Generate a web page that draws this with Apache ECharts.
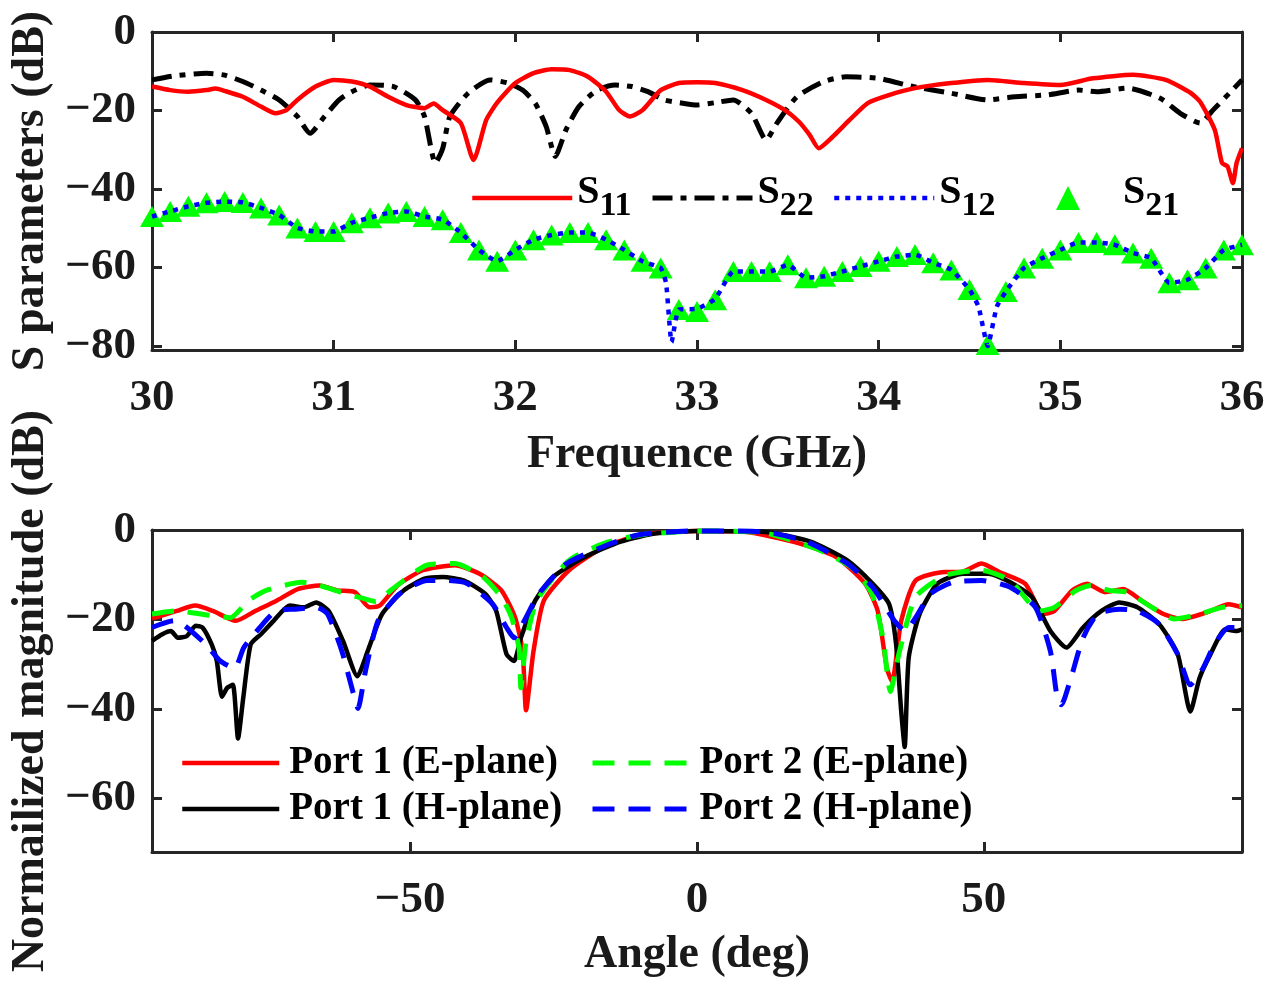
<!DOCTYPE html>
<html>
<head>
<meta charset="utf-8">
<script src="https://cdn.jsdelivr.net/npm/echarts@6/dist/echarts.min.js"></script>
<style>
  html, body { margin: 0; padding: 0; background: #fff; }
  #main { width: 1273px; height: 987px; }
</style>
</head>
<body>
<div id="main"></div>
<script>
// ---- top panel: S parameters vs frequency (GHz) ----
var freqS11 = [30.0, 30.1, 30.2, 30.3, 30.35, 30.4, 30.5, 30.6, 30.68, 30.74, 30.8, 30.9, 31.0, 31.1, 31.2, 31.3, 31.4, 31.5, 31.55, 31.6, 31.7, 31.77, 31.84, 31.9, 32.0, 32.1, 32.2, 32.3, 32.4, 32.5, 32.57, 32.63, 32.7, 32.8, 32.9, 33.0, 33.1, 33.25, 33.38, 33.48, 33.56, 33.62, 33.67, 33.74, 33.84, 33.94, 34.06, 34.2, 34.4, 34.6, 34.8, 35.0, 35.18, 35.4, 35.58, 35.72, 35.77, 35.85, 35.89, 35.92, 35.95, 35.97, 36.0];
var s11 = [-13.9, -14.8, -15.2, -14.8, -14.4, -15, -16.5, -19, -20.7, -19.9, -17.3, -13.9, -12.2, -12.6, -13.9, -16.5, -18.6, -19.4, -18.2, -19.9, -23.2, -32.6, -22.4, -18, -13, -10.5, -9.5, -9.7, -11.4, -15.2, -19.8, -21.5, -19.9, -14.8, -13, -12.8, -13, -14.8, -17.3, -19.8, -22.8, -26.2, -29.6, -27, -22.4, -18.1, -16, -14.3, -13, -12.2, -13, -13.5, -11.8, -10.9, -12.2, -15.6, -17.8, -24.9, -33.4, -34.2, -38.5, -33.4, -29.6];

var freqS22 = [30.0, 30.12, 30.3, 30.4, 30.5, 30.6, 30.7, 30.8, 30.87, 30.95, 31.03, 31.1, 31.2, 31.33, 31.45, 31.5, 31.56, 31.6, 31.64, 31.74, 31.86, 31.96, 32.04, 32.11, 32.17, 32.22, 32.28, 32.35, 32.45, 32.55, 32.64, 32.73, 32.82, 32.93, 33.0, 33.1, 33.2, 33.3, 33.38, 33.44, 33.55, 33.7, 33.82, 34.0, 34.19, 34.4, 34.6, 34.75, 34.93, 35.1, 35.2, 35.37, 35.55, 35.66, 35.77, 35.84, 35.93, 36.0];
var s22 = [-12.2, -11.2, -10.5, -11, -12.6, -14.8, -17.3, -21.5, -25.8, -21.5, -17.3, -15.2, -13.5, -13.9, -17.3, -21.5, -33.4, -29.7, -21.5, -15.6, -12.2, -13, -14.8, -18.2, -24.1, -31.7, -24.8, -19, -14.8, -13.5, -13.9, -15.2, -17.3, -18.2, -18.6, -18, -17.3, -20.7, -27.5, -23.2, -16.5, -12.6, -11.4, -11.8, -13.9, -15.6, -17.3, -16.5, -16, -14.8, -15.2, -14.3, -16.9, -20.7, -23.2, -19.9, -15.6, -12.2];

var freqS12 = [30.0, 30.1, 30.2, 30.3, 30.4, 30.5, 30.6, 30.7, 30.8, 30.9, 31.0, 31.1, 31.2, 31.3, 31.4, 31.5, 31.6, 31.7, 31.8, 31.9, 32.0, 32.1, 32.2, 32.3, 32.4, 32.5, 32.6, 32.7, 32.8, 32.83, 32.86, 32.9, 33.0, 33.1, 33.2, 33.3, 33.4, 33.5, 33.6, 33.7, 33.8, 33.9, 34.0, 34.1, 34.2, 34.3, 34.4, 34.5, 34.55, 34.6, 34.65, 34.7, 34.8, 34.9, 35.0, 35.1, 35.2, 35.3, 35.4, 35.5, 35.6, 35.7, 35.8, 35.9, 36.0];
var s12 = [-47, -45.7, -44.4, -43.5, -43.2, -43.4, -44.8, -46.6, -49.9, -50.8, -50.8, -48.6, -47.3, -46.1, -45.7, -47, -47.8, -51.1, -55.5, -58.4, -55.5, -52.9, -51.7, -51.1, -51.1, -52.9, -55.5, -58.4, -60.1, -64, -79, -70.7, -70.5, -68, -61, -61, -61, -59.3, -62.6, -62.2, -61, -59.7, -58.4, -57.2, -56.7, -58.8, -60.6, -65.6, -70, -80, -70, -66.1, -60.1, -57.6, -55.5, -53.6, -53.6, -54.2, -56.3, -57.6, -63.9, -63.1, -60.1, -55.5, -54.2];

var freqS21 = [30.0, 30.1, 30.2, 30.3, 30.4, 30.5, 30.6, 30.7, 30.8, 30.9, 31.0, 31.1, 31.2, 31.3, 31.4, 31.5, 31.6, 31.7, 31.8, 31.9, 32.0, 32.1, 32.2, 32.3, 32.4, 32.5, 32.6, 32.7, 32.8, 32.9, 33.0, 33.1, 33.2, 33.3, 33.4, 33.5, 33.6, 33.7, 33.8, 33.9, 34.0, 34.1, 34.2, 34.3, 34.4, 34.5, 34.6, 34.7, 34.8, 34.9, 35.0, 35.1, 35.2, 35.3, 35.4, 35.5, 35.6, 35.7, 35.8, 35.9, 36.0];
var s21 = [-47, -45.7, -44.4, -43.5, -43.2, -43.4, -44.8, -46.6, -49.9, -50.8, -50.8, -48.6, -47.3, -46.1, -45.7, -47, -47.8, -51.1, -55.5, -58.4, -55.5, -52.9, -51.7, -51.1, -51.1, -52.9, -55.5, -58.4, -60.1, -70.7, -71.2, -68.2, -61, -61, -61, -59.3, -62.6, -62.2, -61, -59.7, -58.4, -57.2, -56.7, -58.8, -60.6, -65.6, -79.6, -66.1, -60.1, -57.6, -55.5, -53.6, -53.6, -54.2, -56.3, -57.6, -63.9, -63.1, -60.1, -55.5, -54.2];

var freqTicks = [30, 31, 32, 33, 34, 35, 36];
var sparTicks = [-80, -60, -40, -20, 0];

// ---- bottom panel: normalized pattern vs angle (deg) ----
var angP1E = [-95, -90.7, -87.5, -84.4, -80.4, -77, -73.3, -69.6, -65.8, -62.7, -59.6, -57.1, -55.3, -52.2, -47.8, -42.2, -37.9, -34.1, -31.7, -30.4, -29.8, -28.5, -26.7, -22.3, -16.2, -9.9, -3.7, 0, 8.3, 17.8, 24.2, 29.3, 31.5, 33.1, 34, 35.6, 38.1, 43.2, 46, 49.6, 52.7, 57.2, 60.4, 62.3, 65.4, 68, 71.1, 74.3, 77.5, 81.3, 84.5, 88.9, 92.7, 95];
var p1E = [-19.8, -18.1, -16.9, -18.1, -20.3, -18.1, -15.8, -13.2, -12.4, -13.5, -13.9, -17.3, -16.9, -12.4, -9, -7.9, -9.8, -13.5, -19.6, -27.1, -40.3, -27.1, -15.8, -9, -3.8, -1.1, -0.4, -0.2, -0.4, -3, -6, -12, -18.1, -30.9, -33.9, -20.3, -11.3, -9.4, -9.4, -7.5, -9.4, -12, -18.8, -18.1, -13.5, -12, -13.9, -13.2, -15.8, -18.8, -19.9, -18.4, -16.6, -17.3];

var angP2E = [-95, -90.7, -84.4, -81.3, -78.2, -75.1, -68.9, -65.8, -62.1, -59, -56, -53.4, -47.2, -42.2, -37.3, -34.1, -32.3, -31, -30.7, -29.8, -27.9, -22.3, -16.2, -9.9, 0, 11.5, 21, 27.3, 30.5, 32.4, 33.7, 35.3, 38.1, 43.2, 49.6, 54.6, 59.7, 62.3, 66.1, 68.6, 71.8, 75, 78.8, 83.2, 87.6, 91.5, 95];
var p2E = [-18.8, -18.1, -19.2, -19.6, -15.8, -13.5, -11.7, -12.4, -13.9, -15, -16, -13.5, -7.9, -7.5, -10.5, -15, -19.6, -26.7, -35.3, -25, -15.8, -6.8, -3, -1.1, -0.2, -0.6, -4.3, -8.7, -14.3, -24.1, -36.1, -27.1, -15, -10.2, -9, -11.3, -18.1, -17.3, -13.5, -12.4, -13.5, -13.9, -16.9, -19.9, -18.8, -17.3, -16.9];

var angP1H = [-95, -93.2, -91.7, -90.5, -88.9, -87.4, -86.2, -84.6, -83.7, -82.8, -81.9, -80.9, -80, -79.1, -77.8, -76, -73.8, -71, -68.5, -66.4, -64.2, -61.7, -59.2, -57.4, -54.9, -51.1, -47.5, -44.3, -40.6, -36.9, -35, -33.2, -31.9, -30.7, -28.2, -25.1, -19.5, -13.3, -7.1, 0, 11.5, 19.8, 26.2, 30.6, 33.5, 34.7, 35.6, 36.2, 36.9, 38.8, 41.9, 46.4, 50.8, 54.6, 58.4, 61.6, 64.4, 67.3, 70.5, 73.6, 76.8, 80.6, 83.8, 86, 87.6, 89.5, 92.1, 94, 95];
var p1H = [-24.8, -23.3, -22.6, -24.1, -23.7, -21.4, -21.8, -25.6, -29.3, -37.3, -35.3, -34.6, -46.6, -37.6, -25.6, -23.3, -20.3, -16.9, -17.3, -16.2, -18.1, -24.8, -32.7, -27.1, -18.8, -13.5, -10.9, -10.5, -11.3, -14.3, -18.1, -27.8, -29.3, -24.1, -15.8, -10.5, -6, -2.6, -0.75, -0.2, -0.4, -2.6, -6.8, -12, -16.6, -25.5, -40.6, -48.5, -28.6, -18.8, -12, -9.8, -9.8, -11.7, -15, -22.6, -26.3, -21.8, -18.1, -16.2, -17.3, -21.1, -27.8, -40.6, -33.1, -27.8, -22.2, -22.6, -22.2];

var angP2H = [-95, -91.2, -89.3, -85.6, -83.1, -80.6, -79, -76.2, -73.4, -70, -66.3, -64.4, -61.9, -60, -59.1, -57.8, -55.6, -51.9, -47, -43.6, -40, -35.6, -33.2, -31.9, -30.1, -27.6, -22.7, -16.5, -10.3, 0, 11.5, 19.1, 26.2, 30.6, 34.4, 36.3, 38.1, 40.7, 44.5, 49.6, 54.6, 59, 61.6, 62.8, 63.5, 65, 67.3, 69.8, 73.6, 76.8, 80.6, 83.8, 86, 88.2, 90.2, 92.7, 95];
var p2H = [-21.8, -20.3, -21.4, -25.6, -29.3, -30.9, -26.3, -21.8, -18.1, -17.7, -17.3, -18.8, -27.1, -36.1, -39.9, -31.6, -20.3, -14.3, -11.3, -11.3, -12, -16.6, -21.8, -24.1, -20.3, -14.3, -7.5, -3.8, -1.1, -0.2, -0.4, -2.6, -7.5, -12.8, -20.3, -22.6, -19.6, -14.3, -11.7, -11.3, -12.8, -17.3, -27.1, -37.6, -39.1, -33.9, -24.1, -18.8, -17.7, -18.1, -21.1, -27.8, -34.6, -30.9, -25.6, -21.8, -21.8];

var angleTicks = [-50, 0, 50];
var magTicks = [-60, -40, -20, 0];

function zip(xs, ys) {
  return xs.map(function (x, i) { return [x, ys[i]]; });
}

var FONT = 'Liberation Serif, Times New Roman, serif';
var AXC = '#262626';
var minusFmt = function (v) { return String(v).replace('-', '\u2212'); };

// line looks, shared by series and their legend icons
var redLine = { color: '#ff0000', width: 4.5 };
var blackLine = { color: '#000', width: 4.5 };
var blackDashDot = { color: '#000', width: 5, type: [20, 8, 6, 8] };
var blueDots = { color: '#0000ff', width: 4.5, type: [5, 6] };
var greenDash = { color: '#00ff00', width: 5, type: [22, 14] };
var blueDash = { color: '#0000ff', width: 5, type: [22, 14] };

function mainX(grid, min, max, ticks, name, gap) {
  return {
    gridIndex: grid, type: 'value', min: min, max: max, position: 'bottom',
    axisLine: { onZero: false, lineStyle: { color: AXC, width: 3 } },
    axisTick: { inside: true, length: 10, lineStyle: { color: AXC, width: 3 }, customValues: ticks },
    axisLabel: { customValues: ticks, formatter: minusFmt, margin: 26, color: '#1a1a1a',
      fontFamily: FONT, fontWeight: 'bold', fontSize: 45 },
    splitLine: { show: false },
    name: name, nameLocation: 'middle', nameGap: gap,
    nameTextStyle: { fontFamily: FONT, fontWeight: 'bold', fontSize: 46, color: '#1a1a1a' }
  };
}
function mirrorX(grid, min, max, ticks) {
  return {
    gridIndex: grid, type: 'value', min: min, max: max, position: 'top',
    axisLine: { onZero: false, lineStyle: { color: AXC, width: 3 } },
    axisTick: { inside: true, length: 10, lineStyle: { color: AXC, width: 3 }, customValues: ticks },
    axisLabel: { show: false }, splitLine: { show: false }
  };
}
function mainY(grid, min, max, ticks, name) {
  return {
    gridIndex: grid, type: 'value', min: min, max: max, position: 'left',
    axisLine: { onZero: false, lineStyle: { color: AXC, width: 3 } },
    axisTick: { inside: true, length: 10, lineStyle: { color: AXC, width: 3 }, customValues: ticks },
    axisLabel: { customValues: ticks, formatter: minusFmt, margin: 16, color: '#1a1a1a',
      fontFamily: FONT, fontWeight: 'bold', fontSize: 45 },
    splitLine: { show: false },
    name: name, nameLocation: 'middle', nameGap: 92, nameRotate: 90,
    nameTextStyle: { fontFamily: FONT, fontWeight: 'bold', fontSize: 46, color: '#1a1a1a' }
  };
}
function mirrorY(grid, min, max, ticks) {
  return {
    gridIndex: grid, type: 'value', min: min, max: max, position: 'right',
    axisLine: { onZero: false, lineStyle: { color: AXC, width: 3 } },
    axisTick: { inside: true, length: 10, lineStyle: { color: AXC, width: 3 }, customValues: ticks },
    axisLabel: { show: false }, splitLine: { show: false }
  };
}

// line legends: hide the marker that ECharts adds in the middle of the line icon
var noMarker = { color: 'transparent', borderWidth: 0, opacity: 0 };

var subRich = {
  a: { fontFamily: FONT, fontWeight: 'bold', fontSize: 40, lineHeight: 50, verticalAlign: 'top', color: '#000' },
  b: { fontFamily: FONT, fontWeight: 'bold', fontSize: 34, lineHeight: 36, padding: [24, 0, 0, 0], verticalAlign: 'bottom', color: '#000' }
};
function topLegend(name, left, w, pad, ls) {
  var lg = {
    data: [name], left: left, top: 165, padding: 0, itemWidth: w, itemHeight: 24,
    formatter: function (n) { return '{a|S}{b|' + n.slice(1) + '}'; },
    textStyle: { rich: subRich, padding: [0, 0, 0, pad] }
  };
  if (ls) {
    lg.itemStyle = noMarker;
    lg.lineStyle = ls;
  }
  return lg;
}
function botLegend(name, left, top, ls) {
  return {
    data: [name], left: left, top: top, padding: 0, itemWidth: 97, itemHeight: 20,
    itemStyle: noMarker, lineStyle: ls,
    textStyle: { fontFamily: FONT, fontWeight: 'bold', fontSize: 39, lineHeight: 44, color: '#000', padding: [0, 0, 0, 5] }
  };
}

var option = {
  animation: false,
  backgroundColor: '#fff',
  grid: [
    { left: 152, right: 31, top: 32, height: 318 },
    { left: 152, right: 31, top: 530, height: 322 }
  ],
  xAxis: [
    mainX(0, 30, 36, freqTicks, 'Frequence (GHz)', 82),
    mirrorX(0, 30, 36, freqTicks),
    mainX(1, -95, 95, angleTicks, 'Angle (deg)', 80),
    mirrorX(1, -95, 95, angleTicks)
  ],
  yAxis: [
    mainY(0, -81, 0, sparTicks, 'S parameters (dB)'),
    mirrorY(0, -81, 0, sparTicks),
    mainY(1, -72, 0, magTicks, 'Normailized magnitude (dB)'),
    mirrorY(1, -72, 0, magTicks)
  ],
  legend: [
    topLegend('S11', 470, 100, 0, redLine),
    topLegend('S22', 650, 100, 0, blackDashDot),
    topLegend('S12', 832, 100, 0, blueDots),
    topLegend('S21', 1056, 24, 38, null),
    botLegend('Port 1 (E-plane)', 180, 741, redLine),
    botLegend('Port 2 (E-plane)', 590, 741, greenDash),
    botLegend('Port 1 (H-plane)', 180, 787, blackLine),
    botLegend('Port 2 (H-plane)', 590, 787, blueDash)
  ],
  series: [
    { name: 'S22', type: 'line', xAxisIndex: 0, yAxisIndex: 0, data: zip(freqS22, s22), symbol: 'none', smooth: 0.2,
      itemStyle: { color: '#000' }, lineStyle: blackDashDot },
    { name: 'S11', type: 'line', xAxisIndex: 0, yAxisIndex: 0, data: zip(freqS11, s11), symbol: 'none', smooth: 0.2,
      itemStyle: { color: '#ff0000' }, lineStyle: redLine },
    { name: 'S12', type: 'line', xAxisIndex: 0, yAxisIndex: 0, data: zip(freqS12, s12), symbol: 'none', smooth: 0.15,
      itemStyle: { color: '#0000ff' }, lineStyle: blueDots },
    { name: 'S21', type: 'scatter', xAxisIndex: 0, yAxisIndex: 0, data: zip(freqS21, s21), symbol: 'triangle',
      symbolSize: [24, 21], clip: false, itemStyle: { color: '#00ff00', opacity: 1 } },

    { name: 'Port 1 (E-plane)', type: 'line', xAxisIndex: 2, yAxisIndex: 2, data: zip(angP1E, p1E), symbol: 'none', smooth: 0.2,
      itemStyle: { color: '#ff0000' }, lineStyle: redLine },
    { name: 'Port 1 (H-plane)', type: 'line', xAxisIndex: 2, yAxisIndex: 2, data: zip(angP1H, p1H), symbol: 'none', smooth: 0.2,
      itemStyle: { color: '#000' }, lineStyle: blackLine },
    { name: 'Port 2 (E-plane)', type: 'line', xAxisIndex: 2, yAxisIndex: 2, data: zip(angP2E, p2E), symbol: 'none', smooth: 0.2,
      itemStyle: { color: '#00ff00' }, lineStyle: greenDash },
    { name: 'Port 2 (H-plane)', type: 'line', xAxisIndex: 2, yAxisIndex: 2, data: zip(angP2H, p2H), symbol: 'none', smooth: 0.2,
      itemStyle: { color: '#0000ff' }, lineStyle: blueDash }
  ]
};

var myChart = echarts.init(document.getElementById('main'));
myChart.setOption(option);
</script>
</body>
</html>
